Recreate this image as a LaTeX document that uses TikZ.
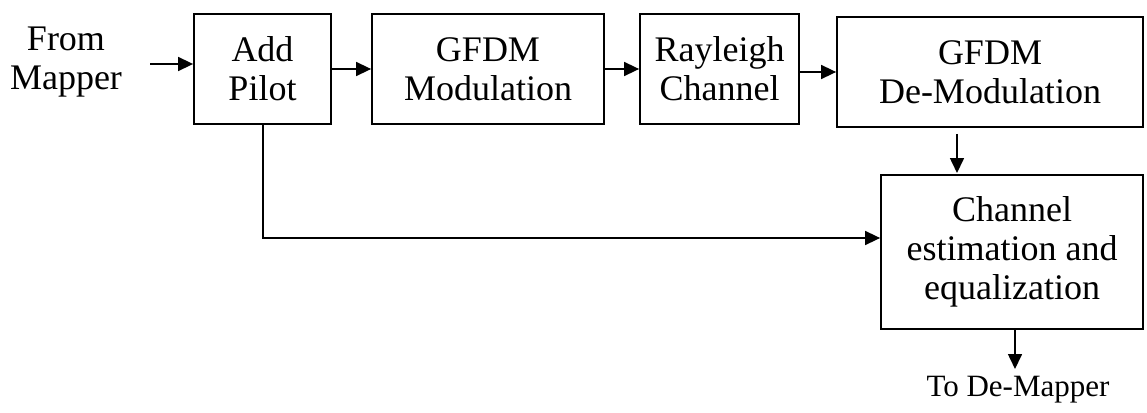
\documentclass[tikz,border=0pt]{standalone}
\usepackage{fontspec}
\setmainfont{Liberation Serif}
\usetikzlibrary{arrows.meta}
\begin{document}
\begin{tikzpicture}[x=1pt,y=-1pt,
  blk/.style={draw,line width=1.8pt,inner sep=0pt,align=center,
    font=\fontsize{36}{39}\selectfont},
  lbl/.style={inner sep=0pt,align=center,font=\fontsize{36}{39}\selectfont},
  flow/.style={line width=1.6pt,-{Triangle[length=15pt,width=14pt]}},
  wire/.style={line width=1.6pt}]
\useasboundingbox (0,0) rectangle (1147,412);
% processing blocks
\node[blk,minimum width=137pt,minimum height=110pt] (pilot) at (262.5,69) {Add\\Pilot};
\node[blk,minimum width=232pt,minimum height=110pt] (mod) at (488,69) {GFDM\\Modulation};
\node[blk,minimum width=159pt,minimum height=110pt] (ray) at (719.5,69) {Rayleigh\\Channel};
\node[blk,minimum width=306pt,minimum height=110pt] (demod) at (990,72) {GFDM\\De-Modulation};
\node[blk,minimum width=262pt,minimum height=154pt] (est) at (1012,252) {Channel\\estimation and\\equalization};
% input and output labels
\node[lbl] (src) at (66,62) {From\\Mapper};
\node[lbl,font=\fontsize{31}{33}\selectfont] (dst) at (1018,390) {To De-Mapper};
\coordinate (srcend) at (150,64);
\coordinate (outend) at (1015,369);
\coordinate (tap) at (263,238);
% connectors
\draw[flow] (srcend) -- (pilot.west |- srcend);
\draw[flow] (pilot.east |- 0,69) -- (mod.west |- 0,69);
\draw[flow] (mod.east |- 0,69) -- (ray.west |- 0,69);
\draw[flow] (ray.east |- 0,72) -- (demod.west |- 0,72);
\draw[flow] (demod.south -| 957,0) ++(0,6) -- (957,173);
\draw[flow] (pilot.south -| tap) -- (tap) -- (est.west |- tap);
\draw[flow] (est.south -| outend) -- (outend);
\end{tikzpicture}
\end{document}
